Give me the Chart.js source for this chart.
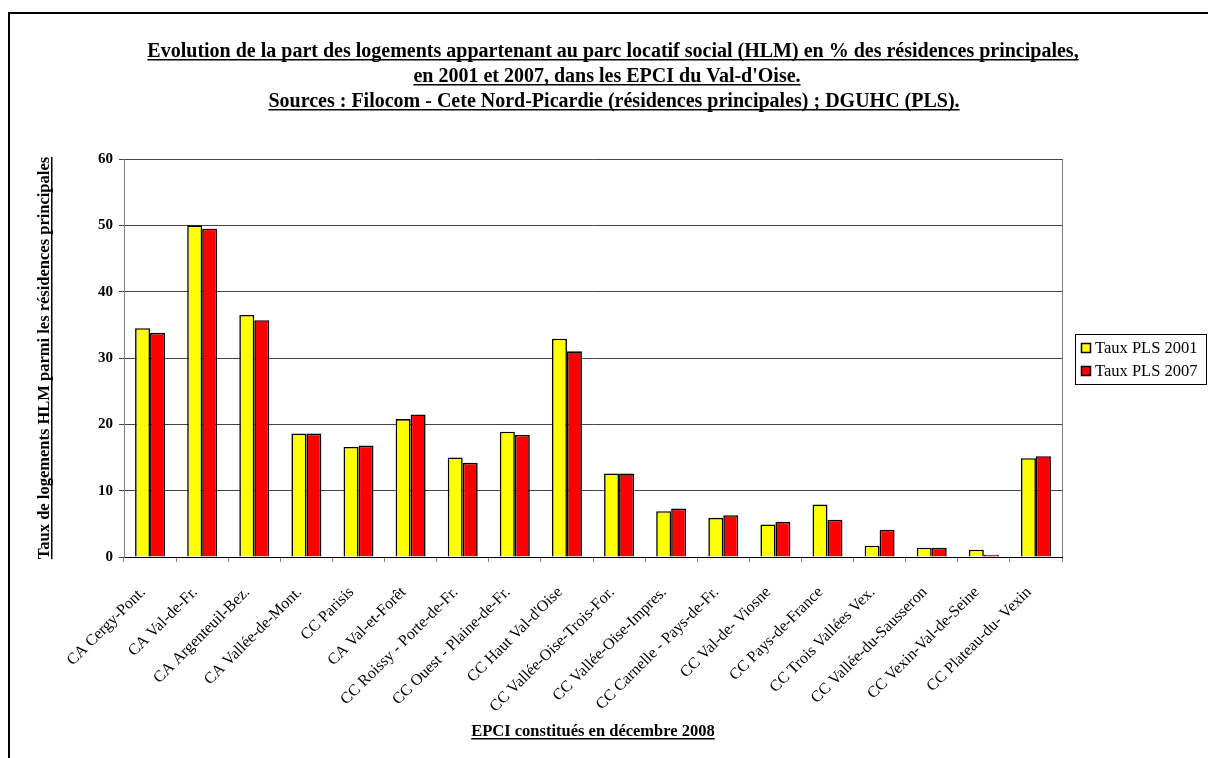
<!DOCTYPE html>
<html>
<head>
<meta charset="utf-8">
<script src="https://cdn.jsdelivr.net/npm/chart.js"></script>
<style>
  html, body { margin: 0; padding: 0; background: #fff; }
</style>
</head>
<body>
<canvas id="chart" width="1208" height="758"></canvas>
<script>
const categories = [
  "CA Cergy-Pont.", "CA Val-de-Fr.", "CA Argenteuil-Bez.", "CA Vallée-de-Mont.",
  "CC Parisis", "CA Val-et-Forêt", "CC Roissy - Porte-de-Fr.", "CC Ouest - Plaine-de-Fr.",
  "CC Haut Val-d'Oise", "CC Vallée-Oise-Trois-For.", "CC Vallée-Oise-Impres.",
  "CC Carnelle - Pays-de-Fr.", "CC Val-de- Viosne", "CC Pays-de-France",
  "CC Trois Vallées Vex.", "CC Vallée-du-Sausseron", "CC Vexin-Val-de-Seine",
  "CC Plateau-du- Vexin"
];
const pls2001 = [34.5, 50.0, 36.5, 18.6, 16.6, 20.8, 15.0, 18.9, 32.9, 12.6, 6.9, 5.9, 4.9, 7.9, 1.7, 1.4, 1.1, 14.9];
const pls2007 = [33.8, 49.5, 35.7, 18.6, 16.8, 21.5, 14.2, 18.4, 31.0, 12.6, 7.3, 6.3, 5.3, 5.6, 4.1, 1.4, 0.35, 15.2];
const seriesLabels = ["Taux PLS 2001", "Taux PLS 2007"];
const titleLines = [
  "Evolution de la part des logements appartenant au parc locatif social (HLM) en % des résidences principales,",
  "en 2001 et 2007, dans les EPCI du Val-d'Oise.",
  "Sources : Filocom - Cete Nord-Picardie (résidences principales) ; DGUHC (PLS)."
];
const yTitle = "Taux de logements HLM parmi les résidences principales";
const xTitle = "EPCI constitués en décembre 2008";

const SERIF = '"Liberation Serif", "Times New Roman", serif';

function underlined(ctx, text, x, y, font) {
  ctx.font = font;
  ctx.textAlign = "center";
  ctx.textBaseline = "alphabetic";
  ctx.fillStyle = "#000";
  ctx.fillText(text, x, y);
  const w = ctx.measureText(text).width;
  ctx.fillRect(x - w / 2, y + 2, w, 1.5);
}

const decorations = {
  id: "decorations",
  afterDraw(chart) {
    const ctx = chart.ctx;
    const area = chart.chartArea;
    ctx.save();
    // outer frame
    ctx.strokeStyle = "#000";
    ctx.lineWidth = 2;
    ctx.strokeRect(9, 13, 1240, 800);
    // right border of plot area
    ctx.strokeStyle = "#808080";
    ctx.lineWidth = 1;
    ctx.beginPath();
    ctx.moveTo(Math.round(area.right) + 0.5, area.top);
    ctx.lineTo(Math.round(area.right) + 0.5, area.bottom);
    ctx.stroke();
    // titles
    const tf = "bold 20px " + SERIF;
    underlined(ctx, titleLines[0], 613, 57, tf);
    underlined(ctx, titleLines[1], 607, 82, tf);
    underlined(ctx, titleLines[2], 614, 107, tf);
    underlined(ctx, xTitle, 593, 736, "bold 16.5px " + SERIF);
    ctx.save();
    ctx.translate(49, 358);
    ctx.rotate(-Math.PI / 2);
    underlined(ctx, yTitle, 0, 0, "bold 16.5px " + SERIF);
    ctx.restore();
    // legend
    ctx.strokeStyle = "#000";
    ctx.lineWidth = 1;
    ctx.strokeRect(1075.5, 334.5, 131, 50);
    chart.data.datasets.forEach((ds, i) => {
      const y = 348 + i * 23;
      ctx.fillStyle = ds.backgroundColor;
      ctx.fillRect(1081, y - 5, 10, 10);
      ctx.lineWidth = 1.5;
      ctx.strokeRect(1081.5, y - 4.5, 9, 9);
      ctx.fillStyle = "#000";
      ctx.font = "16.5px " + SERIF;
      ctx.textAlign = "left";
      ctx.textBaseline = "middle";
      ctx.fillText(ds.label, 1095, y + 1);
    });
    ctx.restore();
  }
};

new Chart(document.getElementById("chart"), {
  type: "bar",
  data: {
    labels: categories,
    datasets: [
      { label: seriesLabels[0], data: pls2001, backgroundColor: "#ffff00", borderColor: "#000", borderWidth: 1.6 },
      { label: seriesLabels[1], data: pls2007, backgroundColor: "#ff0000", borderColor: "#000", borderWidth: 1.6 }
    ]
  },
  options: {
    responsive: false,
    animation: false,
    devicePixelRatio: 1,
    layout: { padding: { left: 64, top: 159, right: 146, bottom: 0 } },
    datasets: { bar: { barPercentage: 1, categoryPercentage: 0.575 } },
    plugins: { legend: { display: false }, title: { display: false }, tooltip: { enabled: false } },
    scales: {
      x: {
        afterFit(scale) { scale.height = 201; },
        grid: { offset: true, drawOnChartArea: false, drawTicks: true, tickLength: 5, color: "#808080" },
        border: { color: "#000" },
        ticks: {
          autoSkip: false, minRotation: 45, maxRotation: 45, padding: 21, labelOffset: -7,
          color: "#000", font: { family: SERIF, size: 16 }
        }
      },
      y: {
        min: 0, max: 60,
        afterFit(scale) { scale.width = 60; },
        grid: { color: "#444", tickLength: 5, drawTicks: true },
        border: { color: "#808080" },
        ticks: {
          stepSize: 10, padding: 6, color: "#000",
          font: { family: SERIF, size: 15, weight: "bold" }
        }
      }
    }
  },
  plugins: [decorations]
});
</script>
</body>
</html>
